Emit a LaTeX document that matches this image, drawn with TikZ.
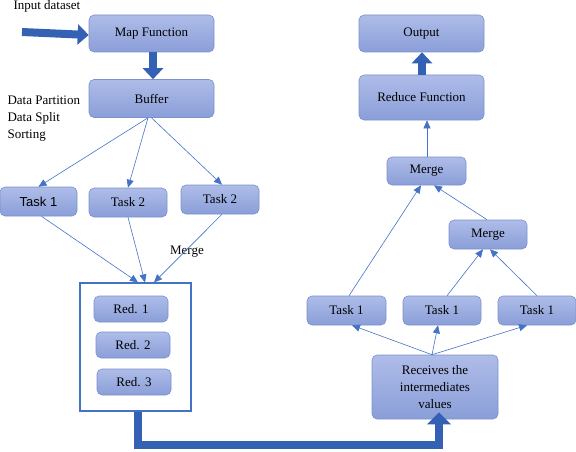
\documentclass[tikz,border=0pt]{standalone}
\usepackage{fontspec}
\setmainfont{Liberation Serif}
\newfontfamily\tasksans{Liberation Sans}
\usetikzlibrary{arrows.meta,positioning}
\definecolor{flowtop}{HTML}{AEBCE8}
\definecolor{flowbot}{HTML}{8A9ED8}
\definecolor{flowedge}{HTML}{7C91CE}
\definecolor{flowblue}{HTML}{4472C4}
\definecolor{flowdark}{HTML}{3461B3}

\begin{document}
\begin{tikzpicture}[x=1pt,y=-1pt,font=\fontsize{13}{17}\selectfont,
    flowbox/.style={draw=flowedge,line width=.6pt,rounded corners=5pt,top color=flowtop,bottom color=flowbot,inner sep=0pt},
    thin/.style={draw=flowblue,line width=.6pt,-{Triangle[length=8pt,width=7pt]}},
    fat/.style={draw=flowdark,line width=8pt,-{Triangle[length=11pt,width=20pt]}}]
        \useasboundingbox (0,0) rectangle (576,452);

        % map side
        \node[flowbox,minimum width=125pt,minimum height=37pt] (map) at (151.5,33.5) {Map Function};
        \node[flowbox,minimum width=125pt,minimum height=38pt] (buffer) at (151.5,98.5) {Buffer};
        \node[flowbox,minimum width=77pt,minimum height=29pt,font=\tasksans\fontsize{13}{17}\selectfont] (task1) at (38.5,201.5) {Task 1};
        \node[flowbox,minimum width=78pt,minimum height=29pt] (task2) at (128,202.5) {Task 2};
        \node[flowbox,minimum width=78pt,minimum height=29pt] (task3) at (220,199.5) {Task 2};

        \node[draw=flowblue,line width=1.2pt,minimum width=111pt,minimum height=128pt,inner sep=0pt] (redbox) at (135.5,347) {};
        \node[flowbox,minimum width=74pt,minimum height=26pt] (red1) at (131,309) {Red. 1};
        \node[flowbox,minimum width=74pt,minimum height=26pt] (red2) at (133,345) {Red. 2};
        \node[flowbox,minimum width=74pt,minimum height=26pt] (red3) at (134,382) {Red. 3};

        \node[anchor=base west] (inlabel) at (10,10) {Input dataset};
        \node[anchor=base west,align=left] (steps) at (4,138) {Data Partition\\Data Split\\Sorting};
        \node[anchor=base] (mergelabel) at (187,254) {Merge};

        % reduce side
        \node[flowbox,minimum width=126pt,minimum height=64pt,align=center] (recv) at (435,387) {Receives the\\intermediates\\values};
        \node[flowbox,minimum width=79pt,minimum height=29pt] (taskA) at (346.5,310.5) {Task 1};
        \node[flowbox,minimum width=78pt,minimum height=29pt] (taskB) at (442,310.5) {Task 1};
        \node[flowbox,minimum width=78pt,minimum height=29pt] (taskC) at (537,310.5) {Task 1};
        \node[flowbox,minimum width=78pt,minimum height=29pt] (merge2) at (488,234.5) {Merge};
        \node[flowbox,minimum width=79pt,minimum height=28pt] (merge1) at (426.5,171) {Merge};
        \node[flowbox,minimum width=125pt,minimum height=45pt] (reduce) at (421.5,97.5) {Reduce Function};
        \node[flowbox,minimum width=125pt,minimum height=37pt] (output) at (421.5,33.5) {Output};

        \coordinate (inp) at (22,32);
        \draw[fat] (inp) -- ([yshift=-1.5pt]map.west);
        \draw[fat] ([xshift=1.5pt]map.south) -- ([xshift=1.5pt]buffer.north);

        \draw[thin] ([xshift=-3.5pt]buffer.south) -- (task1.north);
        \draw[thin] ([xshift=-3.5pt]buffer.south) -- (task2.north);
        \draw[thin] (buffer.south) -- ([xshift=2pt]task3.north);

        \draw[thin] ([xshift=3pt]task1.south) -- ([xshift=2.5pt]redbox.north);
        \draw[thin] (task2.south) -- ([xshift=9.5pt]redbox.north);
        \draw[thin] ([xshift=2pt]task3.south) -- ([xshift=18.5pt]redbox.north);

        \draw[fat,-{Triangle[length=12pt,width=23pt]}] ([xshift=2.5pt]redbox.south) -- ++(0,33) -| ([xshift=4pt,yshift=7pt]recv.south);

        \draw[thin] ([xshift=-3pt]recv.north) -- ([xshift=5.5pt]taskA.south);
        \draw[thin] ([xshift=-3pt]recv.north) -- ([xshift=-4pt]taskB.south);
        \draw[thin] ([xshift=-3pt]recv.north) -- ([xshift=-10pt]taskC.south);

        \draw[thin] ([xshift=5pt]taskB.north) -- ([xshift=-5pt]merge2.south);
        \draw[thin] (taskC.north) -- ([xshift=2pt]merge2.south);
        \draw[thin] ([xshift=2.5pt]taskA.north) -- ([xshift=-5.5pt]merge1.south);
        \draw[thin] ([xshift=-1pt]merge2.north) -- ([xshift=7.5pt]merge1.south);
        \draw[thin] ([xshift=.5pt]merge1.north) -- ([xshift=5.5pt]reduce.south);
        \draw[fat] ([xshift=.5pt]reduce.north) -- ([xshift=.5pt]output.south);
      \end{tikzpicture}
\end{document}
